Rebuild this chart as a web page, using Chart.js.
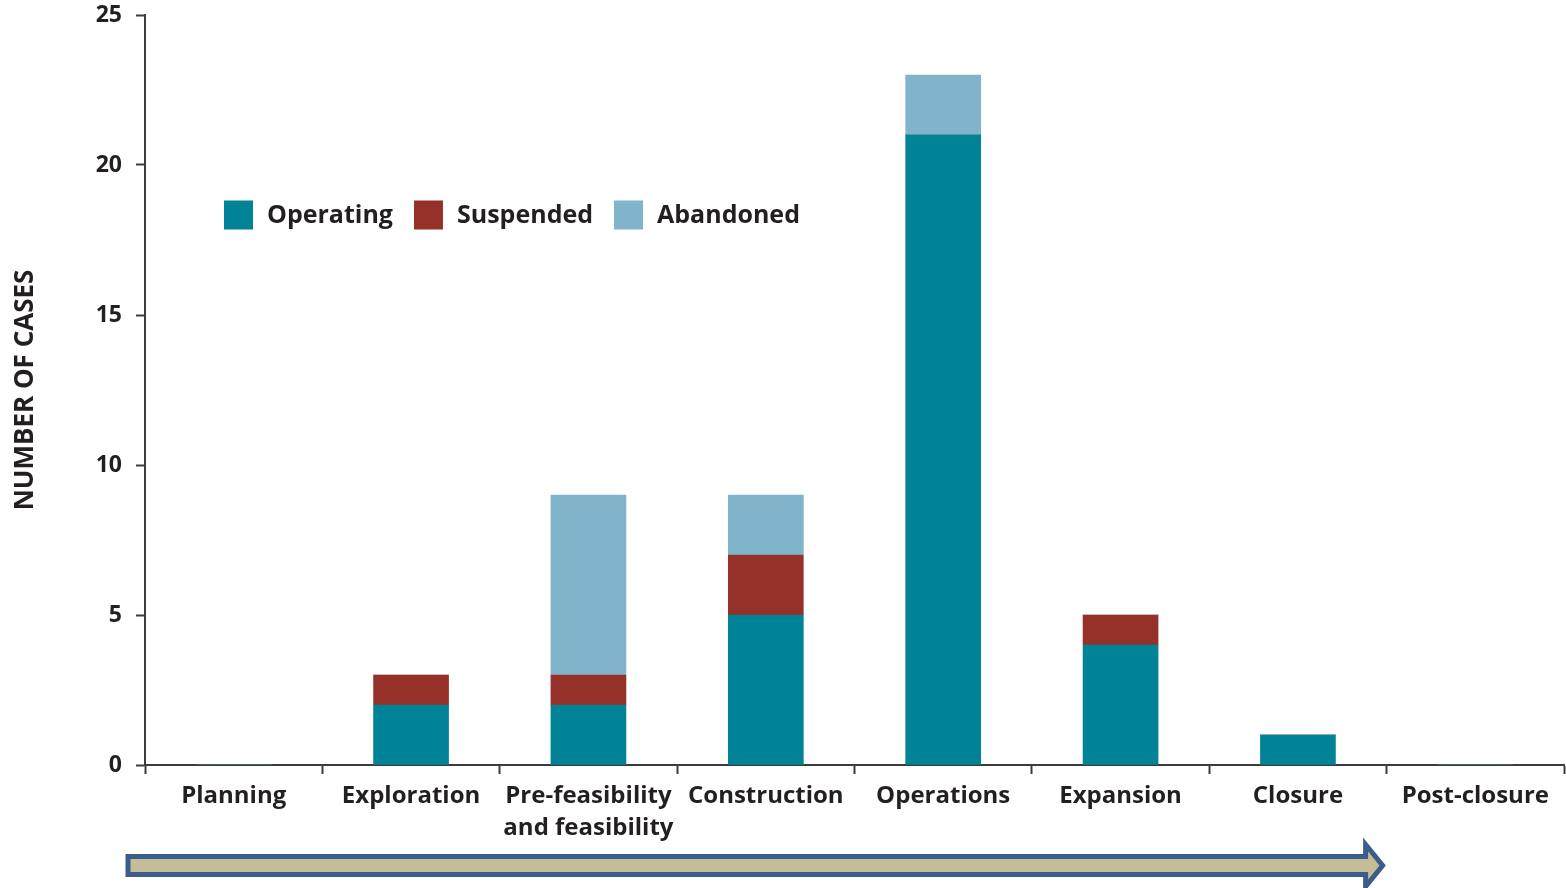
<!DOCTYPE html>
<html>
<head>
<meta charset="utf-8">
<script src="https://cdn.jsdelivr.net/npm/chart.js"></script>
<style>
  html, body { margin: 0; padding: 0; background: #fff; }
  #wrap { width: 1566px; height: 888px; }
</style>
</head>
<body>
<div id="wrap"><canvas id="stageChart" width="1566" height="888"></canvas></div>
<script>
var stages = ['Planning', 'Exploration', ['Pre-feasibility', 'and feasibility'], 'Construction', 'Operations', 'Expansion', 'Closure', 'Post-closure'];
var operating = [0, 2, 2, 5, 21, 4, 1, 0];
var suspended = [0, 1, 1, 2, 0, 1, 0, 0];
var abandoned = [0, 0, 6, 2, 2, 0, 0, 0];
var yTicks = [0, 5, 10, 15, 20, 25];

var fam = "'Open Sans', sans-serif";
var ink = '#231f20';
var axisCol = '#3c3c3c';

// legend drawn inside the plot + the stage arrow under the axis
var extras = {
  id: 'extras',
  afterDraw: function (chart) {
    var c = chart.ctx;
    c.save();
    c.font = 'bold 25px ' + fam;
    c.textBaseline = 'middle';
    var x = 224, y = 215, box = 29;
    chart.data.datasets.forEach(function (ds) {
      c.fillStyle = ds.backgroundColor;
      c.fillRect(x, y - box / 2, box, box);
      x += box + 14;
      c.fillStyle = ink;
      c.fillText(ds.label, x, y + 1);
      x += c.measureText(ds.label).width + 21;
    });

    var xs = chart.scales.x;
    var tip = (xs.getPixelForValue(6) + xs.getPixelForValue(7)) / 2 - 4;
    var start = chart.chartArea.left - 17;
    var cy = 865.5, half = 9, headHalf = 21, headLen = 17;
    c.beginPath();
    c.moveTo(start, cy - half);
    c.lineTo(tip - headLen, cy - half);
    c.lineTo(tip - headLen, cy - headHalf);
    c.lineTo(tip, cy);
    c.lineTo(tip - headLen, cy + headHalf);
    c.lineTo(tip - headLen, cy + half);
    c.lineTo(start, cy + half);
    c.closePath();
    c.fillStyle = '#c4bd97';
    c.fill();
    c.lineWidth = 5;
    c.lineJoin = 'miter';
    c.strokeStyle = '#3a5d8b';
    c.stroke();
    c.restore();
  }
};

var ctx = document.getElementById('stageChart');
var stageChart = new Chart(ctx, {
  type: 'bar',
  data: {
    labels: stages,
    datasets: [{
      label: 'Operating',
      data: operating,
      backgroundColor: '#008396'
    }, {
      label: 'Suspended',
      data: suspended,
      backgroundColor: '#96312a'
    }, {
      label: 'Abandoned',
      data: abandoned,
      backgroundColor: '#80b4cb'
    }]
  },
  options: {
    responsive: false,
    animation: false,
    barThickness: 75,
    borderWidth: 0,
    layout: { padding: { top: 15, right: 2, left: 0, bottom: 0 } },
    plugins: {
      legend: { display: false },
      tooltip: { enabled: false }
    },
    scales: {
      x: {
        stacked: true,
        offset: true,
        grid: { offset: true, drawOnChartArea: false, drawTicks: true, tickLength: 9, tickWidth: 2, tickColor: axisCol },
        border: { color: axisCol, width: 2 },
        ticks: {
          color: ink,
          autoSkip: false,
          maxRotation: 0,
          padding: 7,
          font: { family: fam, size: 24, weight: 'bold', lineHeight: 1.3 }
        },
        afterFit: function (s) { s.height = 123; }
      },
      y: {
        stacked: true,
        min: 0,
        max: 25,
        grid: { drawOnChartArea: false, drawTicks: true, tickLength: 9, tickWidth: 2, tickColor: axisCol },
        border: { color: axisCol, width: 2 },
        ticks: {
          color: ink,
          padding: 14,
          font: { family: fam, size: 23, weight: 'bold' }
        },
        title: {
          display: true,
          text: 'NUMBER OF CASES',
          color: ink,
          padding: { top: 10, bottom: 0 },
          font: { family: fam, size: 26, weight: 'bold' }
        },
        afterBuildTicks: function (s) {
          s.ticks = yTicks.map(function (v) { return { value: v }; });
        },
        afterFit: function (s) {
          s.width = 145;
          s.paddingTop = 0;
          s.paddingBottom = 0;
        }
      }
    }
  },
  plugins: [extras]
});
</script>
</body>
</html>
